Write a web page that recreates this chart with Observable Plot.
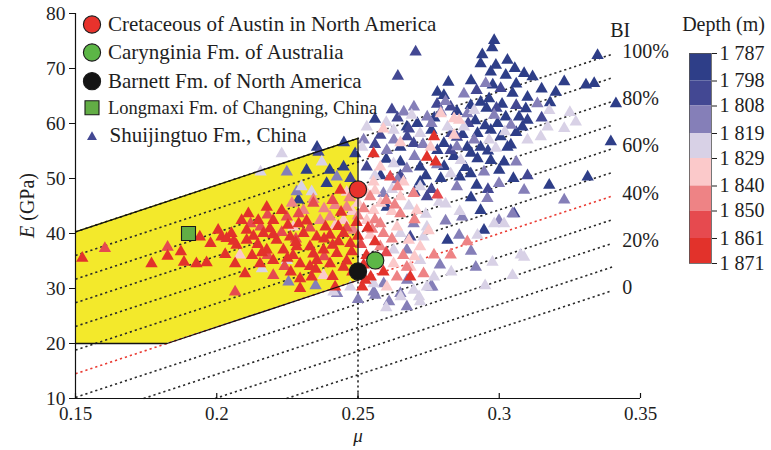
<!DOCTYPE html>
<html><head><meta charset="utf-8">
<script src="https://cdn.jsdelivr.net/npm/d3@7"></script>
<script src="https://cdn.jsdelivr.net/npm/@observablehq/plot@0.6"></script>
<style>
body{margin:0;background:#fff;}
#wrap{position:relative;width:771px;height:450px;font-family:"Liberation Serif","Times New Roman",serif;}
</style></head><body><div id="wrap"></div>
<script>
// ---- scales / ticks ----
const xTicks = [0.15, 0.2, 0.25, 0.3, 0.35];
const xTickLabels = ["0.15", "0.2", "0.25", "0.3", "0.35"];
const yTicks = [10, 20, 30, 40, 50, 60, 70, 80];

// ---- depth classes ----
const depthEdges = [1787, 1798, 1808, 1819, 1829, 1840, 1850, 1861, 1871];
const depthLabels = ["1 787", "1 798", "1 808", "1 819", "1 829", "1 840", "1 850", "1 861", "1 871"];
const depthColors = ["#2e3e88", "#434893", "#857fb8", "#d8d1e6", "#fbc9ca", "#ee8385", "#e64a4f", "#e2322b"];
const classDepth = [1792, 1803, 1813, 1824, 1834, 1845, 1855, 1866];

// ---- Shuijingtuo Fm. samples [mu, E(GPa)] by depth class ----
const class1 = [[0.2289,46.1],[0.2318,51.5],[0.2389,49.1],[0.2449,52.1],[0.2355,55.7],[0.2673,59.4],[0.2650,55.7],[0.2720,52.1],[0.2720,49.4],[0.2602,44.8],[0.2710,60.0],[0.2982,75.1],[0.2975,73.8],[0.3029,71.5],[0.2934,70.9],[0.2988,70.6],[0.2970,69.4],[0.3023,68.8],[0.2977,67.0],[0.3088,69.1],[0.3118,68.5],[0.3230,67.6],[0.3200,65.7],[0.3307,67.0],[0.3336,67.3],[0.3348,72.4],[0.3413,63.6],[0.3395,56.7],[0.2781,65.7],[0.2804,65.1],[0.2899,63.3],[0.2934,63.9],[0.2964,64.5],[0.3047,65.5],[0.3100,64.8],[0.3094,62.7],[0.3023,61.2],[0.3070,61.2],[0.3100,60.6],[0.2994,60.0],[0.3082,59.4],[0.2923,58.2],[0.2970,58.8],[0.3005,57.6],[0.3041,56.1],[0.2887,55.7],[0.2934,55.7],[0.2804,56.4],[0.2781,55.1],[0.2923,53.6],[0.2970,53.3],[0.3017,53.0],[0.3029,55.7],[0.2899,50.9],[0.3313,50.3],[0.3177,48.8],[0.2934,44.2],[0.2946,40.6],[0.2817,38.8],[0.2793,50.0],[0.2600,53.5],[0.2740,50.5],[0.2760,58.8],[0.2880,52.0],[0.2900,46.5],[0.3000,51.5],[0.2560,60.8],
  [0.2850,62.2],[0.2915,60.5],[0.2955,62.8],[0.3010,63.5],[0.2870,58.0],[0.2950,59.6],[0.3060,58.4],[0.2840,54.0],[0.2900,54.6],[0.2960,55.0],[0.2805,52.2],[0.2860,50.3],[0.2920,48.8],[0.3050,50.0],[0.2770,61.0],[0.2820,67.5],[0.2900,67.8],[0.3060,67.2],[0.3150,66.3],[0.3180,63.8],[0.2940,72.5],[0.3055,70.0],[0.2700,47.5],[0.2650,53.0],[0.2580,50.5],[0.2490,54.5],[0.2400,51.5],[0.2450,56.5]];
const class2 = [[0.2360,54.8],[0.2473,50.0],[0.2579,57.9],[0.2697,56.4],[0.2531,52.1],[0.2744,46.7],[0.2685,39.4],[0.2704,73.0],[0.2641,68.6],[0.3005,66.4],[0.2828,63.0],[0.3060,63.3],[0.2828,55.1],[0.2674,57.6],[0.3053,43.6],[0.2650,50.5],[0.2760,48.0],[0.2640,61.0],[0.2850,57.5],[0.2960,48.0],[0.3100,50.5],
  [0.2890,60.0],[0.2830,58.2],[0.2780,63.5],[0.2920,66.0],[0.2990,62.8],[0.3150,61.0],[0.2680,59.0],[0.2620,62.5],[0.2560,56.2],[0.2490,48.5]];
const class3 = [[0.2283,47.6],[0.2425,50.3],[0.2248,51.2],[0.2602,55.1],[0.2673,51.8],[0.2590,47.3],[0.2697,41.8],[0.2673,37.0],[0.2650,29.1],[0.2673,26.7],[0.2254,31.2],[0.2561,28.8],[0.2698,63.0],[0.2662,62.1],[0.2745,61.2],[0.2793,62.1],[0.2952,67.3],[0.2875,65.4],[0.2887,61.8],[0.3135,63.6],[0.2982,61.5],[0.3041,59.7],[0.2911,57.0],[0.2946,51.2],[0.3088,47.9],[0.2999,49.1],[0.3230,46.1],[0.2958,46.4],[0.2869,43.0],[0.3047,43.6],[0.2999,42.4],[0.2858,39.7],[0.2917,33.9],[0.2763,30.3],[0.2591,30.9],[0.2556,29.4],[0.2426,29.1],[0.2757,30.3],[0.2674,31.5],[0.2627,57.0],[0.2520,57.0],[0.2700,54.0],[0.2780,52.5],[0.2850,48.5],[0.3060,53.0],
  [0.2810,64.0],[0.2760,60.0],[0.2850,55.8],[0.2730,56.2],[0.2640,49.8],[0.2810,42.3],[0.2900,36.8],[0.2790,34.3],[0.2610,27.6],[0.2500,28.0],[0.2350,30.5]];
const class4 = [[0.2230,54.5],[0.2372,53.0],[0.2336,47.6],[0.2248,35.1],[0.2413,29.4],[0.2555,30.9],[0.2531,59.4],[0.2626,58.8],[0.2626,52.7],[0.2744,41.2],[0.2732,39.4],[0.2626,37.0],[0.2720,35.1],[0.2697,29.7],[0.2744,30.3],[0.2720,27.6],[0.2911,62.4],[0.3177,62.4],[0.3171,59.4],[0.3230,59.1],[0.3271,60.3],[0.3100,57.0],[0.3147,57.6],[0.2817,59.4],[0.2875,59.4],[0.2964,57.0],[0.2988,55.5],[0.2864,53.3],[0.2828,50.9],[0.2982,41.8],[0.2923,39.7],[0.2976,34.8],[0.3076,36.1],[0.3047,32.4],[0.2787,45.7],[0.2810,45.4],[0.2651,28.5],[0.2716,28.5],[0.2473,30.3],[0.2769,32.1],[0.3088,35.7],[0.3017,41.8],[0.2155,51.2],[0.2515,55.7],[0.2556,54.5],[0.2160,33.6],[0.2720,58.2],[0.2560,50.5],[0.2620,48.0],[0.2680,45.0],[0.2740,43.5],[0.2650,40.0],[0.2720,48.5],
  [0.2600,60.2],[0.2690,61.5],[0.3020,58.5],[0.3250,62.0],[0.2860,44.0],[0.2830,33.0],[0.2600,26.5],[0.2950,30.5],[0.2300,48.5]];
const class5 = [[0.2271,41.2],[0.2449,42.4],[0.2378,32.4],[0.2082,36.1],[0.2579,52.1],[0.2555,49.4],[0.2661,49.4],[0.2650,46.7],[0.2555,44.2],[0.2708,44.2],[0.2531,42.4],[0.2638,41.2],[0.2543,39.7],[0.2720,37.6],[0.2626,34.5],[0.2602,30.3],[0.2840,60.9],[0.2793,61.8],[0.2858,60.6],[0.2840,57.9],[0.2757,55.7],[0.2686,33.9],[0.2530,47.5],[0.2580,45.5],[0.2620,44.0],[0.2680,38.8],[0.2700,35.8],[0.2580,34.0],[0.2500,45.5],[0.2460,47.5],[0.2420,41.5],
  [0.2650,56.5],[0.2590,59.0],[0.2540,35.5],[0.2480,44.0],[0.2560,47.8],[0.2750,40.5]];
const class6 = [[0.2419,45.1],[0.2307,44.2],[0.2366,42.4],[0.2401,43.0],[0.2484,40.6],[0.2543,46.7],[0.2697,47.3],[0.2650,43.6],[0.2579,41.8],[0.2590,40.0],[0.2579,37.6],[0.2673,33.9],[0.2638,32.1],[0.2732,32.7],[0.2887,38.5],[0.2828,36.1],[0.2769,36.1],[0.2342,46.2],[0.2380,44.5],[0.2266,45.5],[0.2460,44.8],[0.2520,44.5],[0.2560,42.5],[0.2620,39.0],[0.2660,36.0],[0.2600,46.0],[0.2640,48.5],
  [0.2500,43.2],[0.2630,45.2],[0.2700,42.5],[0.2470,46.5],[0.2550,40.8]];
const class7 = [[0.1604,37.3],[0.1826,37.5],[0.2065,29.4],[0.2342,45.5],[0.2248,43.0],[0.2200,32.4],[0.2614,50.3],[0.2781,47.0],[0.2155,41.2],[0.2230,40.2],[0.2290,43.6],[0.2180,36.0],[0.2330,41.0],[0.2120,41.8],[0.2410,46.0],[0.2280,39.0],[0.2510,38.0],[0.2570,35.5],[0.2600,36.5],
  [0.2180,43.4],[0.2460,41.0],[0.2240,34.0],[0.2380,35.8]];
const class8 = [[0.1524,35.5],[0.1769,34.5],[0.1826,35.9],[0.1873,36.7],[0.1884,34.8],[0.1928,34.5],[0.1964,34.7],[0.1940,39.4],[0.1978,38.2],[0.2005,40.6],[0.2017,39.4],[0.2035,39.1],[0.2052,40.0],[0.2070,37.9],[0.2106,40.6],[0.2112,43.6],[0.2088,42.4],[0.2106,38.8],[0.2065,34.5],[0.2100,32.7],[0.2437,47.9],[0.2177,44.8],[0.2147,42.4],[0.2200,42.4],[0.2449,40.0],[0.2165,40.0],[0.2212,38.8],[0.2260,39.4],[0.2307,40.0],[0.2354,39.4],[0.2401,39.7],[0.2431,38.5],[0.2473,38.2],[0.2177,37.0],[0.2236,37.0],[0.2283,37.6],[0.2330,37.6],[0.2378,37.0],[0.2425,36.4],[0.2478,36.7],[0.2153,34.5],[0.2200,35.1],[0.2295,34.5],[0.2354,35.1],[0.2401,34.5],[0.2449,33.9],[0.2295,31.8],[0.2336,32.1],[0.2419,30.3],[0.2295,30.0],[0.2526,31.5],[0.2744,53.9],[0.2555,54.5],[0.2769,57.6],[0.2775,53.0],[0.2685,32.1],[0.2545,32.1],[0.2515,30.3],[0.2125,36.0],[0.2188,40.9],[0.2252,41.5],[0.2318,42.3],[0.2385,41.2],[0.2440,43.9],[0.2495,42.0],[0.2030,36.2],[0.2145,38.0],[0.2270,36.0],[0.2342,36.3],[0.2410,37.9],[0.2460,35.0],[0.2500,39.5],[0.2262,33.0],[0.2350,33.5],[0.2480,33.0],[0.2530,36.0],[0.2560,38.5],[0.2535,41.0],
  [0.2230,44.2],[0.2290,41.8],[0.2200,39.8],[0.2130,39.5],[0.2380,39.0],[0.2280,38.4],[0.2160,36.5],[0.2430,41.3],[0.2060,38.6],[0.2330,34.0],[0.2410,32.2],[0.2250,35.5],[0.2520,34.3],[0.2590,33.0]];
const shuiClasses = [class1, class2, class3, class4, class5, class6, class7, class8];

// ---- BI contour lines ----
const biLevels  = [0, 10, 20, 30, 40, 50, 60, 70, 80, 90, 100];
const biStartMu = [0.2247, 0.1994, 0.1741, 0.15, 0.15, 0.15, 0.15, 0.15, 0.15, 0.15, 0.15];
const biStartE  = [10, 10, 10, 10.2, 14.5, 18.8, 23.1, 27.4, 31.7, 36.0, 40.3];
const biEndMu   = [0.34, 0.34, 0.34, 0.34, 0.34, 0.34, 0.34, 0.34, 0.34, 0.34, 0.34];
const biEndE    = [29.6, 33.9, 38.2, 42.5, 46.8, 51.1, 55.4, 59.7, 64.0, 68.3, 72.6];
const biLabelLevels = [0, 20, 40, 60, 80, 100];
const biLabelText   = ["0", "20%", "40%", "60%", "80%", "100%"];

// ---- yellow zone ----
const zoneMu   = [0.15, 0.1824, 0.25];
const zoneLow  = [20, 20, 31.5];
const zoneHigh = [40.3, 45.8, 57.3];
const zoneOutlineMu = [0.15, 0.25, 0.25, 0.1824, 0.15];
const zoneOutlineE  = [40.3, 57.3, 31.5, 20, 20];
const cutoffMu = 0.25, cutoffE = 31.5;

// ---- reference formations ----
const refNames = ["Cretaceous of Austin in North America", "Carynginia Fm. of Australia", "Barnett Fm. of North America", "Longmaxi Fm. of Changning, China"];
const refMu = [0.25, 0.2561, 0.25, 0.19];
const refE  = [48.0, 35.1, 33.1, 40.0];
const refFill = ["#e8322c", "#5cb646", "#141414", "#62ad45"];
const refSymbol = ["circle", "circle", "circle", "square"];
const shuiName = "Shuijingtuo Fm., China";

// ---- build tables ----
const shui = [];
shuiClasses.forEach((arr, k) => arr.forEach(([mu, E]) => shui.push({mu, E, depth: classDepth[k]})));
const biIdx = d3.range(biLevels.length);
const biBlack = biIdx.filter(i => biLevels[i] !== 40);
const biRed = biIdx.filter(i => biLevels[i] === 40);
const biLab = biLabelLevels.map((lv, j) => { const i = biLevels.indexOf(lv); return {mu: biEndMu[i], E: biEndE[i], t: biLabelText[j]}; });
const zone = zoneMu.map((m, i) => ({mu: m, lo: zoneLow[i], hi: zoneHigh[i]}));
const outline = zoneOutlineMu.map((m, i) => ({mu: m, E: zoneOutlineE[i]}));
const refs = refNames.map((n, i) => ({n, mu: refMu[i], E: refE[i], fill: refFill[i], symbol: refSymbol[i]}));

const FONT = '"Liberation Serif","Times New Roman",serif';
const TXT = "#1e1e1e";
const R_CIRCLE = 8.6, R_SQUARE = 7.9;

// legend marks
const legendRows = [11, 39, 67.7, 94.3];
const legendMarks = [];
refs.forEach((r, i) => {
  legendMarks.push(Plot.dot([r], {frameAnchor: "top-left", dx: 16.5, dy: legendRows[i], r: r.symbol === "square" ? R_SQUARE : R_CIRCLE, symbol: r.symbol, fill: r.fill, stroke: "#1a1a1a", strokeWidth: 1.1}));
  legendMarks.push(Plot.text([r.n], {frameAnchor: "top-left", dx: 32.5, dy: legendRows[i], textAnchor: "start", lineAnchor: "middle", fontSize: i === 3 ? 18.5 : 21, fill: TXT, fontFamily: FONT}));
});
legendMarks.push(Plot.dot([shuiName], {frameAnchor: "top-left", dx: 16.5, dy: 123.5, r: 3.7, symbol: "triangle", fill: depthColors[1]}));
legendMarks.push(Plot.text([shuiName], {frameAnchor: "top-left", dx: 34, dy: 122, textAnchor: "start", lineAnchor: "middle", fontSize: 21, fill: TXT, fontFamily: FONT}));

const circles = refs.filter(d => d.symbol === "circle");
const squares = refs.filter(d => d.symbol === "square");

const main = Plot.plot({
  width: 771, height: 450,
  marginLeft: 75, marginRight: 131, marginTop: 13, marginBottom: 52,
  style: {fontFamily: FONT, fontSize: "20px", color: TXT, background: "white", overflow: "visible"},
  x: {domain: [0.15, 0.35]},
  y: {domain: [10, 80]},
  color: {type: "threshold", domain: depthEdges.slice(1, -1), range: depthColors},
  marks: [
    Plot.areaY(zone, {x: "mu", y1: "lo", y2: "hi", fill: "#f3e92b"}),
    Plot.link(biBlack, {x1: i => biStartMu[i], y1: i => biStartE[i], x2: i => biEndMu[i], y2: i => biEndE[i], stroke: "#2a2a2a", strokeWidth: 1.6, strokeDasharray: "2.2,3"}),
    Plot.link(biRed, {x1: i => biStartMu[i], y1: i => biStartE[i], x2: i => biEndMu[i], y2: i => biEndE[i], stroke: "#ea3b33", strokeWidth: 1.6, strokeDasharray: "2.2,3"}),
    Plot.ruleX([cutoffMu], {y1: 10, y2: cutoffE, stroke: "#2a2a2a", strokeWidth: 1.6, strokeDasharray: "2.2,3"}),
    Plot.dot(shui, {x: "mu", y: "E", fill: "depth", symbol: "triangle", r: 4.6}),
    Plot.line(outline, {x: "mu", y: "E", stroke: "#111", strokeWidth: 1.3}),
    Plot.dot(circles, {x: "mu", y: "E", symbol: "circle", r: R_CIRCLE, fill: d => d.fill, stroke: "#1a1a1a", strokeWidth: 1.1}),
    Plot.dot(squares, {x: "mu", y: "E", symbol: "square", r: R_SQUARE, fill: d => d.fill, stroke: "#1a1a1a", strokeWidth: 1.1}),
    Plot.text(biLab, {x: "mu", y: "E", text: "t", dx: 10, dy: -3, textAnchor: "start", fontSize: 20, fill: TXT, fontFamily: FONT}),
    Plot.text(["BI"], {x: () => biEndMu[10], y: () => biEndE[10], dx: -2, dy: -24, textAnchor: "start", fontSize: 20, fill: TXT, fontFamily: FONT}),
    Plot.ruleY([10], {stroke: "#111", strokeWidth: 1.2}),
    Plot.ruleX([0.15], {stroke: "#111", strokeWidth: 1.2}),
    Plot.ruleX(xTicks, {y1: 10, y2: 10, insetTop: -5, stroke: "#111", strokeWidth: 1.2}),
    Plot.axisX({ticks: xTicks, tickFormat: (d, i) => xTickLabels[i], tickSize: 0, tickPadding: 8, fontSize: 19, label: null, fill: TXT}),
    Plot.axisY({ticks: yTicks, tickSize: 6, tickPadding: 4, fontSize: 19.5, label: null, fill: TXT, stroke: "#111"}),
    Plot.text(["\u03bc"], {frameAnchor: "bottom", dy: 43, fontSize: 19, fontStyle: "italic", fill: TXT, fontFamily: FONT}),
    ...legendMarks
  ]
});
// y axis title with italic E
const svg = d3.select(main);
const yl = svg.append("text")
  .attr("transform", `translate(27,${(13 + 398) / 2}) rotate(-90)`)
  .attr("text-anchor", "middle").attr("dominant-baseline", "central")
  .attr("font-family", FONT).attr("font-size", 20).attr("fill", TXT);
yl.append("tspan").attr("font-style", "italic").text("E");
yl.append("tspan").text(" (GPa)");

const wrap = document.getElementById("wrap");
wrap.appendChild(main);

// ---- depth colour bar ----
const bands = d3.range(depthColors.length).map(i => ({lo: depthEdges[i], hi: depthEdges[i + 1], c: depthColors[i]}));
const cb = Plot.plot({
  width: 91, height: 290, marginLeft: 9, marginRight: 60, marginTop: 53, marginBottom: 27,
  style: {fontFamily: FONT, fontSize: "20px", color: TXT, background: "transparent", overflow: "visible"},
  x: {axis: null},
  y: {domain: [depthEdges[0], depthEdges[depthEdges.length - 1]], reverse: true},
  color: {type: "identity"},
  marks: [
    Plot.rectY(bands, {y1: "lo", y2: "hi", fill: "c"}),
    Plot.frame({stroke: "#555", strokeWidth: 0.8}),
    Plot.axisY({anchor: "right", ticks: depthEdges, tickFormat: (d, i) => depthLabels[i], tickSize: 5, tickPadding: 3, fontSize: 20, label: null, fill: TXT}),
    Plot.text(["Depth (m)"], {frameAnchor: "top-left", dx: 34, dy: -29, textAnchor: "middle", lineAnchor: "middle", fontSize: 20, fill: TXT, fontFamily: FONT})
  ]
});
cb.style.position = "absolute";
cb.style.left = "680px";
cb.style.top = "0px";
wrap.appendChild(cb);
</script>
</body></html>
